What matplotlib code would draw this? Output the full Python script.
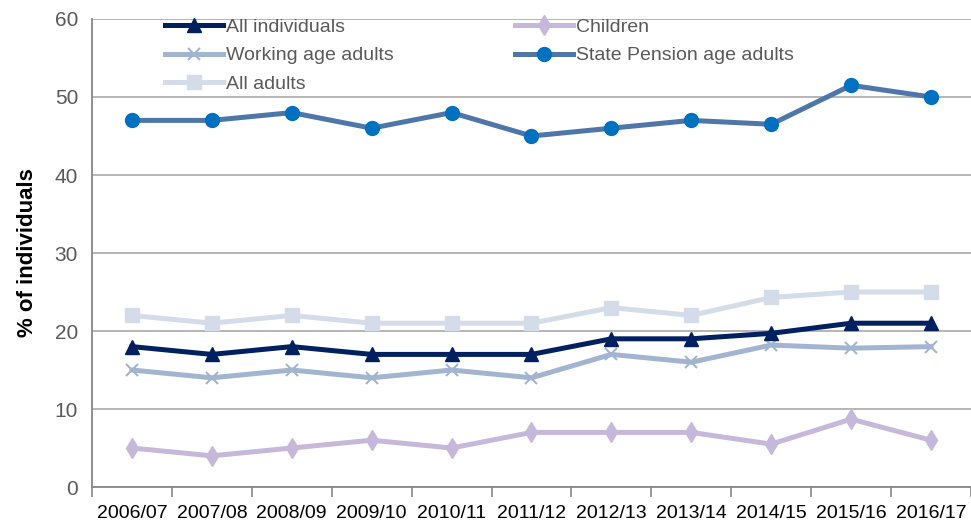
import matplotlib.pyplot as plt
import numpy as np

plt.rcParams['font.family'] = ['Liberation Sans Narrow', 'Liberation Sans', 'DejaVu Sans']

years = ['2006/07', '2007/08', '2008/09', '2009/10', '2010/11', '2011/12',
         '2012/13', '2013/14', '2014/15', '2015/16', '2016/17']
all_individuals = [18, 17, 18, 17, 17, 17, 19, 19, 19.7, 21, 21]
children = [5, 4, 5, 6, 5, 7, 7, 7, 5.5, 8.7, 6]
working_age = [15, 14, 15, 14, 15, 14, 17, 16, 18.2, 17.8, 18]
pension_age = [47, 47, 48, 46, 48, 45, 46, 47, 46.5, 51.5, 50]
all_adults = [22, 21, 22, 21, 21, 21, 23, 22, 24.3, 25, 25]

fig = plt.figure(figsize=(9.71, 5.26), dpi=100)
ax = fig.add_axes([0.0947, 0.0741, 0.9053, 0.8898])

x = np.arange(len(years))
lw = 3.6
l_all, = ax.plot(x, all_individuals, color='#002060', lw=lw, marker='^', ms=10, label='All individuals', zorder=5)
l_child, = ax.plot(x, children, color='#C5B8DA', lw=lw, marker='d', ms=10, label='Children', zorder=3)
l_work, = ax.plot(x, working_age, color='#A2B4CF', lw=lw, marker='x', ms=9, mew=1.5, label='Working age adults', zorder=4)
l_pens, = ax.plot(x, pension_age, color='#4F76A8', lw=lw, marker='o', ms=10, mfc='#0070C0', mec='#0070C0',
                  label='State Pension age adults', zorder=5)
l_adult, = ax.plot(x, all_adults, color='#D3DCE8', lw=lw, marker='s', ms=10, label='All adults', zorder=3)

ax.set_xlim(-0.5, len(years) - 0.5)
ax.set_ylim(0, 60)
ax.set_yticks(np.arange(0, 61, 10))
ax.grid(axis='y', color='#B0B0B0', lw=1.3)
ax.set_axisbelow(True)

# category ticks sit on the boundaries, labels in the middle
ax.set_xticks(np.arange(-0.5, len(years) + 0.5, 1))
ax.set_xticklabels([])
ax.set_xticks(x, minor=True)
ax.set_xticklabels(years, minor=True)
ax.tick_params(axis='x', which='major', length=7, color='#888888', width=1.2, direction='out')
ax.tick_params(axis='x', which='minor', length=0, pad=13, labelsize=14, labelcolor='black')
ax.tick_params(axis='y', length=0, labelsize=15, labelcolor='#595959', pad=10)

for side in ['top', 'right']:
    ax.spines[side].set_visible(False)
for side in ['left', 'bottom']:
    ax.spines[side].set_color('#888888')
    ax.spines[side].set_linewidth(1.3)

ax.set_ylabel('% of individuals', fontsize=16, fontweight='bold', labelpad=12)

# legend filled column by column: left column three entries, right column two
handles = [l_all, l_work, l_adult, l_child, l_pens]
leg = ax.legend(handles=handles, labels=[h.get_label() for h in handles], ncol=2,
                loc='upper left', bbox_to_anchor=(0.082, 1.003), frameon=False,
                fontsize=14, handlelength=3.0, columnspacing=6.2, labelspacing=0.55,
                handletextpad=0.15, borderpad=0.05, borderaxespad=0)
for t in leg.get_texts():
    t.set_color('#595959')

fig.savefig('out.png', dpi=100)
